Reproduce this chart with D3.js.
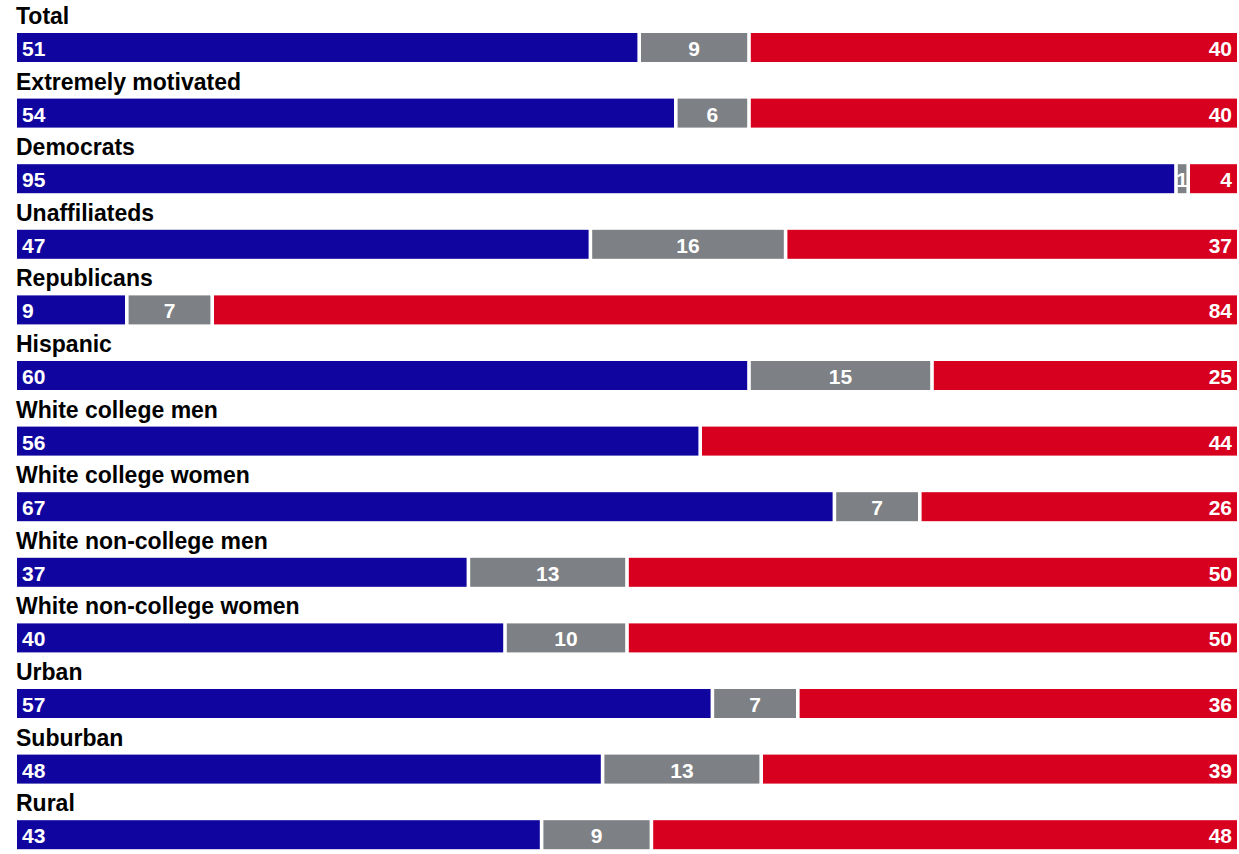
<!DOCTYPE html>
<html>
<head>
<meta charset="utf-8">
<script src="https://cdn.jsdelivr.net/npm/d3@7"></script>
<style>
  html, body { margin: 0; padding: 0; background: #fff; }
  svg { display: block; }
</style>
</head>
<body>
<div id="chart"></div>
<script>
const categories = ["Total", "Extremely motivated", "Democrats", "Unaffiliateds", "Republicans", "Hispanic",
  "White college men", "White college women", "White non-college men", "White non-college women",
  "Urban", "Suburban", "Rural"];
const demValues = [51, 54, 95, 47, 9, 60, 56, 67, 37, 40, 57, 48, 43];
const undecidedValues = [9, 6, 1, 16, 7, 15, 0, 7, 13, 10, 7, 13, 9];
const repValues = [40, 40, 4, 37, 84, 25, 44, 26, 50, 50, 36, 39, 48];
const seriesNames = ["Democrat", "Undecided", "Republican"];
const seriesColors = ["#10069f", "#7d8084", "#d7001e"];

const W = 1239, H = 854;
const svg = d3.select("#chart").append("svg").attr("width", W).attr("height", H);

const x = d3.scaleLinear().domain([0, 100]).range([17, 1237]);
const step = 65.6, p = 1 - 29 / 65.6, top0 = 33;
const y = d3.scaleBand().domain(categories)
  .range([top0, top0 + step * (categories.length - p)])
  .paddingInner(p).paddingOuter(0).align(0);
const color = d3.scaleOrdinal().domain(seriesNames).range(seriesColors);

const rows = categories.map((c, i) => {
  const vals = [demValues[i], undecidedValues[i], repValues[i]];
  let cum = 0;
  const segs = vals.map((v, k) => {
    const s = { cat: c, key: seriesNames[k], k, v, start: cum, end: cum + v };
    cum += v;
    return s;
  }).filter(s => s.v > 0);
  segs.forEach((s, j) => { s.first = j === 0; s.last = j === segs.length - 1; });
  return { cat: c, segs };
});

const gap = 1.8;
const g = svg.append("g");
const row = g.selectAll("g.row").data(rows).join("g").attr("class", "row");

row.append("text")
  .attr("x", 16)
  .attr("y", d => y(d.cat) - 9)
  .attr("font-family", "'Liberation Sans', Arial, Helvetica, sans-serif")
  .attr("font-weight", "bold")
  .attr("font-size", 23)
  .attr("fill", "#000")
  .text(d => d.cat);

row.selectAll("rect").data(d => d.segs).join("rect")
  .attr("x", d => x(d.start) + (d.first ? 0 : gap))
  .attr("width", d => Math.max(0, x(d.end) - x(d.start) - (d.first ? 0 : gap) - (d.last ? 0 : gap)))
  .attr("y", d => y(d.cat))
  .attr("height", y.bandwidth())
  .attr("fill", d => color(d.key));

row.selectAll("text.val").data(d => d.segs).join("text")
  .attr("class", "val")
  .attr("x", d => d.k === 0 ? x(d.start) + 5 : d.k === 2 ? x(d.end) - 5 : (x(d.start) + x(d.end)) / 2)
  .attr("text-anchor", d => d.k === 0 ? "start" : d.k === 2 ? "end" : "middle")
  .attr("y", d => y(d.cat) + 23)
  .attr("font-family", "'Liberation Sans', Arial, Helvetica, sans-serif")
  .attr("font-weight", "bold")
  .attr("font-size", 21)
  .attr("fill", "#fff")
  .text(d => d.v);
</script>
</body>
</html>
